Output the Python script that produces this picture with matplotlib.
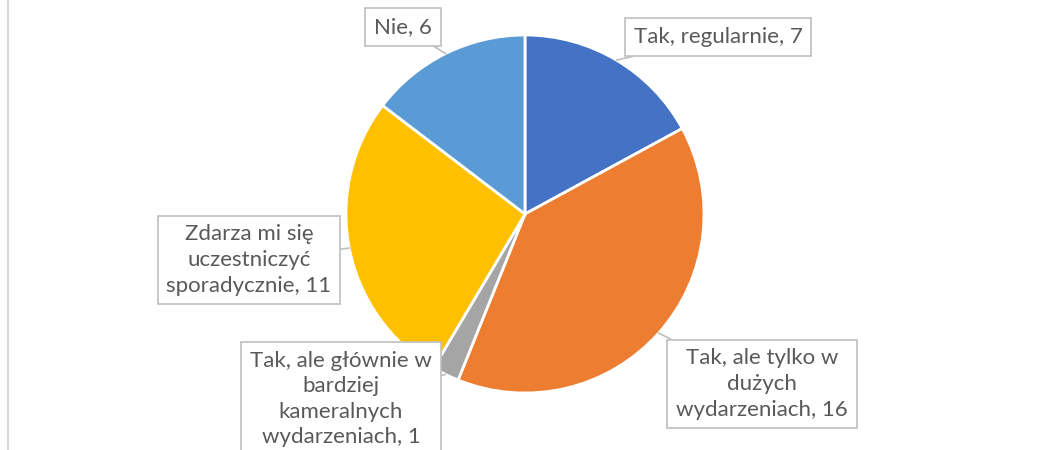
import numpy as np
import matplotlib
matplotlib.use("Agg")
import matplotlib.pyplot as plt

# Data
labels = [
    "Tak, regularnie",
    "Tak, ale tylko w\ndużych\nwydarzeniach",
    "Tak, ale głównie w\nbardziej\nkameralnych\nwydarzeniach",
    "Zdarza mi się\nuczestniczyć\nsporadycznie",
    "Nie",
]
values = [7, 16, 1, 11, 6]
colors = ["#4472C4", "#ED7D31", "#A5A5A5", "#FFC000", "#5B9BD5"]

# label box centres (pixel layout, y measured from the bottom)
label_pos = [(718, 413), (762, 66), (341, 51), (249, 190), (403, 423)]

plt.rcParams['font.family'] = ['Lato', 'DejaVu Sans']

fig = plt.figure(figsize=(10.38, 4.5), dpi=100)
ax = fig.add_axes([0, 0, 1, 1])

center = (525, 236)
radius = 179
wedges, _ = ax.pie(values, colors=colors, startangle=90, counterclock=False,
                   center=center, radius=radius,
                   wedgeprops=dict(edgecolor='white', linewidth=2))
ax.set_xlim(0, 1038)
ax.set_ylim(0, 450)
ax.set_aspect('equal')
ax.axis('off')

# data labels with leader lines
for w, lab, val, pos in zip(wedges, labels, values, label_pos):
    mid = np.deg2rad((w.theta1 + w.theta2) / 2)
    tip = (center[0] + radius * np.cos(mid), center[1] + radius * np.sin(mid))
    ax.annotate(f"{lab}, {val}", xy=tip, xytext=pos, ha='center', va='center',
                fontsize=16, color='#595959', linespacing=1.35,
                bbox=dict(boxstyle='square,pad=0.4', fc='white', ec='#BFBFBF', lw=1.2),
                arrowprops=dict(arrowstyle='-', color='#BFBFBF', lw=1.2,
                                shrinkA=0, shrinkB=0))

# left border line
ax.plot([8, 8], [0, 450], color='#D9D9D9', lw=1.5)

fig.savefig("out.png", dpi=100)
